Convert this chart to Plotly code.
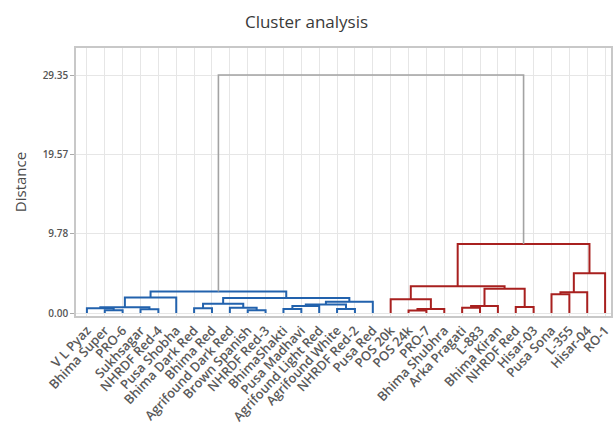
import plotly.graph_objects as go

# Leaf labels in dendrogram order
leaf_labels = [
    "V L Pyaz", "Bhima Super", "PRO-6", "Sukhsagar", "NHRDF Red-4", "Pusa Shobha",
    "Bhima Dark Red", "Bhima Red", "Agrifound Dark Red", "Brown Spanish", "NHRDF Red-3",
    "BhimaShakti", "Pusa Madhavi", "Agrifound Light Red", "Agrifound White", "NHRDF Red-2",
    "Pusa Red", "POS 20k", "POS 24k", "PRO-7", "Bhima Shubhra", "Arka Pragati", "L-883",
    "Bhima Kiran", "NHRDF Red", "Hisar-03", "Pusa Sona", "L-355", "Hisar-04", "RO-1",
]

# Linkage (scipy style: node ids >= n are earlier merges)
merge_left = [1, 0, 3, 31, 33, 6, 9, 8, 35, 11, 39, 14, 40, 42, 38, 34,
              18, 46, 17, 21, 49, 24, 50, 48, 26, 54, 55, 53, 45]
merge_right = [2, 30, 4, 32, 5, 7, 10, 36, 37, 12, 13, 15, 41, 16, 43, 44,
               19, 20, 47, 22, 23, 25, 51, 52, 27, 28, 29, 56, 57]
merge_height = [0.35, 0.6, 0.45, 0.7, 1.9, 0.6, 0.35, 0.65, 1.15, 0.5, 0.85, 0.5, 1.05, 1.4, 1.85, 2.65,
                0.3, 0.5, 1.7, 0.65, 0.85, 0.75, 3.0, 3.3, 2.3, 2.55, 4.9, 8.5, 29.35]
# Group of each merge: 0 = blue cluster, 1 = red cluster, 2 = top link
merge_group = [0] * 16 + [1] * 12 + [2]

y_tickvals = [0.0, 9.78, 19.57, 29.35]
y_ticktext = ["0.00", "9.78", "19.57", "29.35"]

group_colors = ["#2262ad", "#a8201f", "#a3a3a3"]
group_widths = [2, 2, 1.6]

n = len(leaf_labels)
node_x = {i: float(i) for i in range(n)}
node_h = {i: 0.0 for i in range(n)}

segs = [([], []) for _ in group_colors]
for k, (a, b, h, g) in enumerate(zip(merge_left, merge_right, merge_height, merge_group)):
    xa, xb = node_x[a], node_x[b]
    xs, ys = segs[g]
    xs += [xa, xa, xb, xb, None]
    ys += [node_h[a], h, h, node_h[b], None]
    node_x[n + k] = (xa + xb) / 2
    node_h[n + k] = h

fig = go.Figure()
for g, (xs, ys) in enumerate(segs):
    fig.add_trace(go.Scatter(
        x=xs, y=ys, mode="lines",
        line=dict(color=group_colors[g], width=group_widths[g]),
        hoverinfo="skip", showlegend=False,
    ))

fig.update_layout(
    width=613, height=431,
    margin=dict(l=76, r=0, t=48, b=115),
    paper_bgcolor="white", plot_bgcolor="white",
    font=dict(family="Open Sans", color="#4a4a4a"),
    title=dict(text="Cluster analysis", x=0.5, xref="container", xanchor="center",
               y=0.95, yref="container", yanchor="middle",
               font=dict(size=17, color="#3a3a3a")),
    xaxis=dict(
        range=[-0.61, 29.33],
        tickmode="array", tickvals=list(range(n)), ticktext=leaf_labels,
        tickangle=-47, tickfont=dict(size=13, color="#5a5a5a", weight=600),
        showgrid=True, gridcolor="#e6e6e6", gridwidth=1,
        showline=True, linecolor="#c8c8c8", linewidth=1.5, mirror=True,
        ticks="", zeroline=False,
    ),
    yaxis=dict(
        range=[-0.37, 32.68],
        tickmode="array", tickvals=y_tickvals, ticktext=y_ticktext,
        tickfont=dict(size=10, color="#555", weight=600),
        ticks="outside", ticklen=4, tickcolor="#aaa",
        showgrid=True, gridcolor="#e6e6e6", gridwidth=1,
        showline=True, linecolor="#c8c8c8", linewidth=1.5, mirror=True,
        zeroline=False,
        title=dict(text="Distance", font=dict(size=15, color="#4a4a4a"), standoff=12),
    ),
)

fig.write_html("out.html")
